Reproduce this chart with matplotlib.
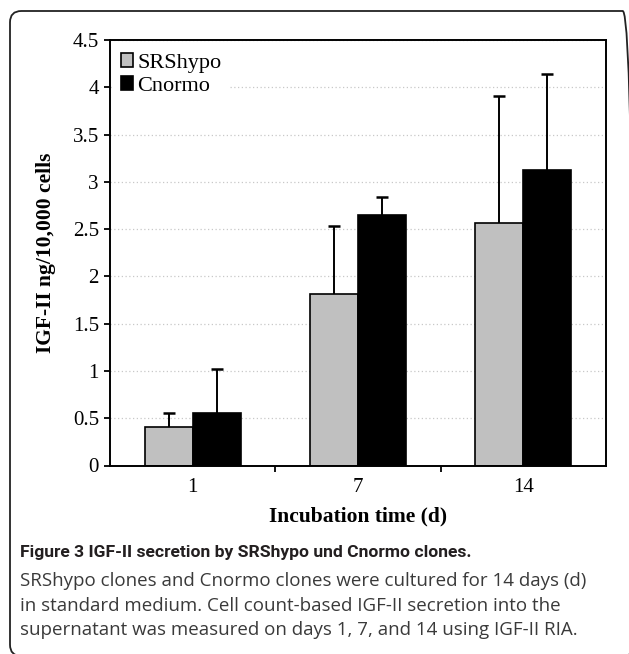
import numpy as np
import matplotlib.pyplot as plt
from matplotlib.patches import FancyBboxPatch

# Data
days = ['1', '7', '14']
srshypo = [0.41, 1.81, 2.56]
srshypo_err = [0.15, 0.72, 1.35]
cnormo = [0.55, 2.65, 3.12]
cnormo_err = [0.47, 0.19, 1.02]

W, H = 629, 654
fig = plt.figure(figsize=(W / 100, H / 100), dpi=100)

# outer rounded frame (right and bottom edges run off the picture)
frame = FancyBboxPatch((10 / W, 1 - 656 / H), 624 / W, 645 / H,
                       boxstyle="round,pad=0,rounding_size=0.018",
                       transform=fig.transFigure, fill=False,
                       edgecolor='#222222', linewidth=1.3, mutation_aspect=W / H)
fig.patches.append(frame)

ax = fig.add_axes([110 / W, 1 - 465.5 / H, 496 / W, 425.5 / H])

x = np.arange(len(days))
w = 0.29
serif = 'Liberation Serif'

ax.bar(x - w / 2, srshypo, w, color='#c0c0c0', edgecolor='black', linewidth=1.2,
       label='SRShypo', zorder=2)
ax.bar(x + w / 2, cnormo, w, color='black', edgecolor='black', linewidth=1.2,
       label='Cnormo', zorder=2)

# upper error bars only: stem from the bar top, cap at the end
for pos, vals, errs in [(x - w / 2, srshypo, srshypo_err), (x + w / 2, cnormo, cnormo_err)]:
    vals = np.array(vals)
    errs = np.array(errs)
    ax.vlines(pos, vals, vals + errs, color='black', linewidth=1.4, zorder=3)
    ax.plot(pos, vals + errs, linestyle='none', marker='_', markersize=9,
            markeredgewidth=1.8, color='black', zorder=3)

ax.set_xlim(-0.5, 2.5)
ax.set_ylim(0, 4.5)
ax.set_yticks(np.arange(0, 4.51, 0.5))
ax.set_yticklabels(['0', '0.5', '1', '1.5', '2', '2.5', '3', '3.5', '4', '4.5'])
ax.yaxis.grid(True, linestyle=(0, (1, 2)), color='#c8c8c8', linewidth=0.9, zorder=0)
ax.set_axisbelow(True)

ax.set_xticks([0.5, 1.5])
ax.set_xticklabels([])
ax.set_xticks(x, minor=True)
ax.set_xticklabels(days, minor=True)
ax.tick_params(axis='x', which='minor', length=0, pad=9, labelsize=15)
ax.tick_params(axis='x', which='major', length=4, width=1.3, direction='out')
ax.tick_params(axis='y', length=4, width=1.3, direction='out', pad=4, labelsize=15)
for lab in ax.get_xticklabels(minor=True) + ax.get_yticklabels():
    lab.set_fontfamily(serif)

for s in ax.spines.values():
    s.set_linewidth(1.4)

ax.set_ylabel('IGF-II ng/10,000 cells', fontfamily=serif, fontweight='bold',
              fontsize=15.5, labelpad=12)
ax.set_xlabel('Incubation time (d)', fontfamily=serif, fontweight='bold',
              fontsize=15.5, labelpad=7)

leg = ax.legend(loc='upper left', bbox_to_anchor=(-0.005, 1.0), frameon=True,
                prop={'family': serif, 'size': 16}, handlelength=0.55,
                handleheight=0.55, handletextpad=0.2, labelspacing=0.15,
                borderpad=0.3, borderaxespad=0.3)
leg.get_frame().set_edgecolor('none')
leg.get_frame().set_facecolor('white')
leg.get_frame().set_alpha(1)

# caption
fig.text(20 / W, 1 - 553 / H, 'Figure 3 IGF-II secretion by SRShypo und Cnormo clones.',
         fontfamily='Roboto', fontweight='bold', fontsize=12.6, color='#231f20',
         va='center', ha='left')
lines = ['SRShypo clones and Cnormo clones were cultured for 14 days (d)',
         'in standard medium. Cell count-based IGF-II secretion into the',
         'supernatant was measured on days 1, 7, and 14 using IGF-II RIA.']
for i, t in enumerate(lines):
    fig.text(20 / W, 1 - (581 + 24.7 * i) / H, t, fontfamily='Open Sans',
             fontsize=13.5, color='#3a3a3a', va='center', ha='left')

fig.savefig('out.png', dpi=100)
